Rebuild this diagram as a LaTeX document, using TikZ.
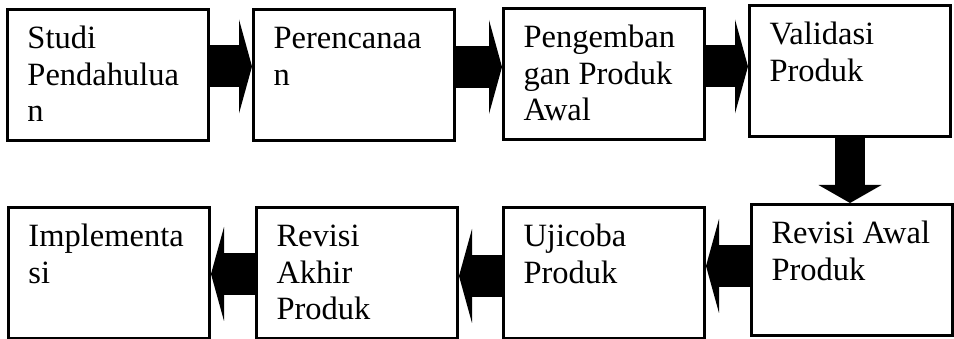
\documentclass[tikz,border=0pt]{standalone}
\usepackage{fontspec}
\setmainfont{Liberation Serif}
\usetikzlibrary{arrows.meta, calc}

\newcommand{\isitahap}[1]{\parbox[c][131pt][t]{201pt}{\raggedright\leftskip=20pt\rule{0pt}{39.5pt}#1}}

\begin{document}
\begin{tikzpicture}[
    x=1pt, y=1pt,
    tahap/.style={rectangle, draw, line width=3pt, inner sep=0pt, anchor=north west,
        minimum width=201pt, minimum height=131pt, font=\fontsize{32.5}{36.5}\selectfont},
    panah/.style={line width=42pt, -{Triangle[length=13pt, width=94pt, line width=0pt]}},
    panahbawah/.style={line width=30pt, -{Triangle[length=18pt, width=63pt, line width=0pt]}}
]
    \useasboundingbox (0,0) rectangle (954,-339);

    % Baris atas
    \node[tahap] (studi) at (6,-8) {\isitahap{Studi\\Pendahulua\\n}};
    \node[tahap] (rencana) at (252,-8) {\isitahap{Perencanaa\\n}};
    \node[tahap] (kembang) at (502,-7) {\isitahap{Pengemban\\gan Produk\\Awal}};
    \node[tahap] (validasi) at (748,-4) {\isitahap{Validasi\\Produk}};

    % Baris bawah
    \node[tahap] (revawal) at (750,-203) {\isitahap{Revisi Awal\\Produk}};
    \node[tahap] (uji) at (502,-206) {\isitahap{Ujicoba\\Produk}};
    \node[tahap] (revakhir) at (255,-206) {\isitahap{Revisi\\Akhir\\Produk}};
    \node[tahap] (impl) at (7,-206) {\isitahap{Implementa\\si}};

    % Panah
    \draw[panah] ([yshift=8.5pt]studi.east) -- ([yshift=8.5pt]studi.east -| rencana.west);
    \draw[panah] ([yshift=8pt]rencana.east) -- ([yshift=8pt]rencana.east -| kembang.west);
    \draw[panah] ([yshift=7.5pt]kembang.east) -- ([yshift=7.5pt]kembang.east -| validasi.west);
    \draw[panahbawah] (validasi.south) -- (validasi.south |- revawal.north);
    \draw[panah] ([yshift=4pt]revawal.west) -- ([yshift=4pt]revawal.west -| uji.east);
    \draw[panah] ([yshift=-3pt]uji.west) -- ([yshift=-3pt]uji.west -| revakhir.east);
    \draw[panah] ([yshift=-1pt]revakhir.west) -- ([yshift=-1pt]revakhir.west -| impl.east);

\end{tikzpicture}
\end{document}
